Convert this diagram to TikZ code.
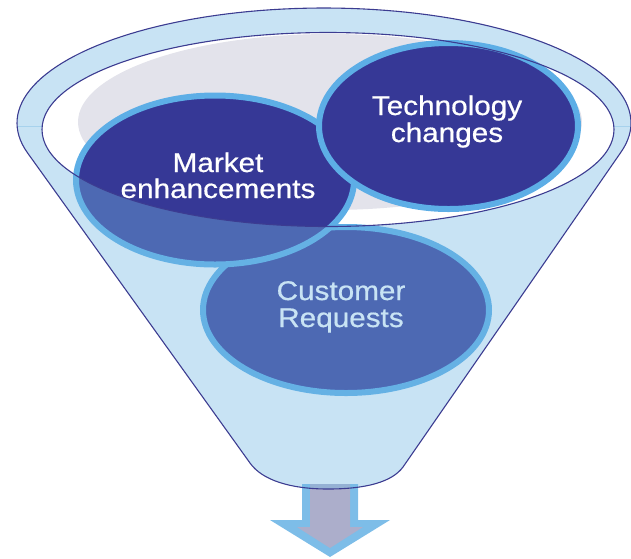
\documentclass[tikz,border=0pt]{standalone}
\usepackage{fontspec}
\newfontfamily\lblfont{Liberation Sans}[FakeStretch=1.1,FakeBold=0.6]
\usetikzlibrary{shapes.geometric}
\definecolor{navy}{RGB}{60,60,145}
\definecolor{bubble}{RGB}{54,56,150}
\definecolor{bubbleedge}{RGB}{93,174,230}
\definecolor{wall}{RGB}{114,183,227}
\definecolor{greyin}{RGB}{227,227,235}
\definecolor{arrowfill}{RGB}{172,174,203}
\definecolor{arrowedge}{RGB}{125,189,232}
\begin{document}
\begin{tikzpicture}[x=1pt,y=-1pt,
  bubblenode/.style={ellipse, draw=bubbleedge, line width=6pt, fill=bubble, inner sep=0pt, outer sep=0pt},
  txt/.style={anchor=base, inner sep=0pt, text=white, font=\lblfont\fontsize{27}{27}\selectfont},
  wallfill/.style={fill=wall, fill opacity=0.39},
  outline/.style={draw=navy, line width=1.1pt},
  arrowbody/.style={fill=arrowfill},
  arrowrim/.style={fill=arrowedge}
]
\useasboundingbox (0,0) rectangle (631,558);

% output arrow
\path[arrowrim] (302,484) -- (302,520) -- (270,520) -- (330,557) -- (390,520) -- (358,520) -- (358,484) -- cycle;
\path[arrowbody] (310,484) -- (310,527) -- (297,527) -- (330,548) -- (363,527) -- (350,527) -- (350,484) -- cycle;

% back rim of the funnel
\begin{scope}
  \clip (0,0) rectangle (631,126);
  \path[wallfill, even odd rule] (324,123) ellipse[x radius=307pt, y radius=115pt]
        (328,129.5) ellipse[x radius=286pt, y radius=97pt];
\end{scope}
% grey inside of the opening
\begin{scope}
  \clip (328,129.5) ellipse[x radius=286pt, y radius=97pt];
  \fill[greyin] (330,122) ellipse[x radius=252pt, y radius=88pt];
\end{scope}

% bubbles
\node[bubblenode, minimum width=286pt, minimum height=166pt] (cust) at (346,310) {};
\node[bubblenode, minimum width=278pt, minimum height=169pt] (mkt) at (215,180) {};
\node[bubblenode, minimum width=259pt, minimum height=166pt] (tech) at (448.5,126) {};

\node[txt] (tech1) at (447,115) {Technology};
\node[txt] (tech2) at (447,142) {changes};
\node[txt] (mkt1) at (218,172) {Market};
\node[txt] (mkt2) at (218,198) {enhancements};
\node[txt] (cust1) at (341,300) {Customer};
\node[txt] (cust2) at (341,327) {Requests};

% translucent front wall of the funnel
\begin{scope}
  \clip (0,126) rectangle (631,558);
  \path[wallfill, even odd rule] (250,463) -- plot[domain=165:374.6,samples=100] ({324+307*cos(\x)},{123+115*sin(\x)})
        -- (403,467) .. controls (392,482) and (366,489) .. (328,489)
        .. controls (290,489) and (262,480) .. (250,463) -- cycle
        (328,129.5) ellipse[x radius=286pt, y radius=97pt];
\end{scope}

% outlines
\draw[outline] (250,463) -- plot[domain=165:374.6,samples=100] ({324+307*cos(\x)},{123+115*sin(\x)})
        -- (403,467) .. controls (392,482) and (366,489) .. (328,489)
        .. controls (290,489) and (262,480) .. (250,463) -- cycle;
\draw[outline] (328,129.5) ellipse[x radius=286pt, y radius=97pt];
\end{tikzpicture}
\end{document}
